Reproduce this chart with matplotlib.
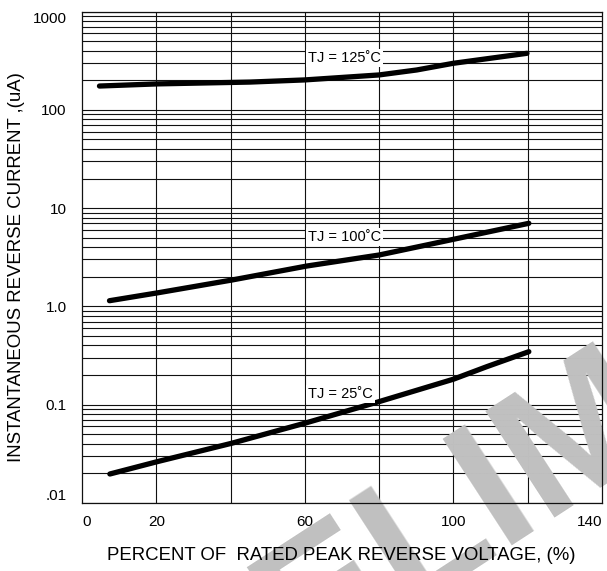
import numpy as np
import matplotlib

matplotlib.use("Agg")
import matplotlib.pyplot as plt
from matplotlib.ticker import LogLocator, NullFormatter

plt.rcParams["font.family"] = ["Liberation Sans", "DejaVu Sans"]

# percent of rated peak reverse voltage
x_125 = [4.7, 20.3, 45.2, 60.0, 80.0, 90.1, 99.9, 109.8, 119.8]
ir_125 = [175, 184, 192, 202, 227, 255, 298, 335, 377]

x_100 = [7.4, 20.3, 40.3, 60.5, 80.0, 100.0, 120.3]
ir_100 = [1.14, 1.37, 1.85, 2.57, 3.33, 4.81, 7.0]

x_25 = [7.5, 20.3, 40.3, 60.5, 80.0, 100.0, 109.0, 120.3]
ir_25 = [0.0196, 0.0262, 0.0403, 0.0653, 0.107, 0.181, 0.243, 0.345]

curve_labels = ["TJ = 125˚C", "TJ = 100˚C", "TJ = 25˚C"]
label_x = [60.8, 60.8, 60.8]
label_y = [337, 5.1, 0.128]

x_ticks = [0, 20, 60, 100, 140]
y_ticks = [0.01, 0.1, 1, 10, 100, 1000]
y_ticklabels = [".01", "0.1", "1.0", "10", "100", "1000"]

fig = plt.figure(figsize=(6.07, 5.71), dpi=100)
ax = fig.add_axes([82 / 607, 68.3 / 571, 520 / 607, 491 / 571])

ax.set_yscale("log")
ax.set_xlim(0, 140)
ax.set_ylim(0.01, 1000)
ax.set_axisbelow(True)

# grid: every 20 % on x, full log decades on y
for gx in range(20, 140, 20):
    ax.axvline(gx, color="#111111", lw=0.8, zorder=0.4)
ax.yaxis.set_minor_locator(LogLocator(base=10, subs=np.arange(2, 10)))
ax.yaxis.set_minor_formatter(NullFormatter())
ax.grid(True, axis="y", which="both", color="#111111", lw=0.8)

ax.set_xticks(x_ticks)
ax.set_xticklabels([str(v) for v in x_ticks])
ax.set_yticks(y_ticks)
ax.set_yticklabels(y_ticklabels)
ax.tick_params(axis="both", which="both", length=0, labelsize=11)
ax.tick_params(axis="x", pad=9)
ax.tick_params(axis="y", pad=11)
for lab in ax.get_xticklabels():
    if lab.get_text() == "0":
        lab.set_ha("left")
    elif lab.get_text() == "140":
        lab.set_ha("right")
for lab in ax.get_yticklabels():
    if lab.get_text() == "1000":
        lab.set_va("top")
    elif lab.get_text() == ".01":
        lab.set_va("bottom")

for s in ax.spines.values():
    s.set_color("#111111")
    s.set_linewidth(0.9)

for xs, ys in [(x_125, ir_125), (x_100, ir_100), (x_25, ir_25)]:
    ax.plot(xs, ys, color="black", lw=3.8, solid_capstyle="round", zorder=3)

for txt, lx, ly in zip(curve_labels, label_x, label_y):
    ax.text(lx, ly, txt, fontsize=10.5, ha="left", va="center", zorder=4,
            bbox=dict(facecolor="white", edgecolor="none", pad=1.5))

# watermark, mostly cut off by the figure edge
ax.text(1.03, 0.07, "PRELIMINARY", transform=ax.transAxes, fontsize=132,
        fontweight="bold", color="#c0c0c0", rotation=33, ha="center",
        va="baseline", rotation_mode="anchor", clip_on=False, zorder=1)

fig.text(17 / 607, 1 - 267 / 571, "INSTANTANEOUS REVERSE CURRENT ,(uA)",
         fontsize=13.4, rotation=90, ha="center", va="center", zorder=10)
fig.text(341 / 607, 1 - 555 / 571, "PERCENT OF  RATED PEAK REVERSE VOLTAGE, (%)",
         fontsize=13.4, ha="center", va="center", zorder=10)

fig.savefig("out.png", dpi=100, facecolor="white")
